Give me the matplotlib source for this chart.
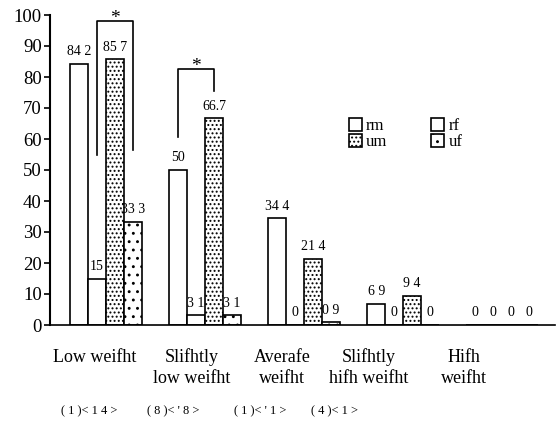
import matplotlib
matplotlib.use("Agg")
import matplotlib.pyplot as plt
import numpy as np

plt.rcParams['font.family'] = ['Liberation Serif', 'DejaVu Serif']
plt.rcParams['hatch.linewidth'] = 0.9

# data
groups = ["Low weifht", "Slifhtly\nlow weifht", "Averafe\nweifht",
          "Slifhtly\nhifh weifht", "Hifh\nweifht"]
sub_labels = ["( 1 )< 1 4 >", "( 8 )< ' 8 >", "( 1 )< ' 1 >", "( 4 )< 1 >"]

rm = [84.2, 50, 34.4, 6.9, 0]
rf = [15, 3.1, 0, 0, 0]
um = [85.7, 66.7, 21.4, 9.4, 0]
uf = [33.3, 3.1, 0.9, 0, 0]

rm_txt = ["84 2", "50", "34 4", "6 9", "0"]
rf_txt = ["15", "3 1", "0", "0", "0"]
um_txt = ["85 7", "66.7", "21 4", "9 4", "0"]
uf_txt = ["33 3", "3 1", "0 9", "0", "0"]

series = [("rm", rm, rm_txt, ""), ("rf", rf, rf_txt, ""),
          ("um", um, um_txt, "...."), ("uf", uf, uf_txt, "..")]

fig = plt.figure(figsize=(5.58, 4.22), dpi=100)
ax = fig.add_axes([50/558, 1-325/422, 505/558, 310/422])

x = np.arange(len(groups))
w = 0.18
offsets = [-1.5*w, -0.5*w, 0.5*w, 1.5*w]

bars = []
for (name, vals, txts, hatch), off in zip(series, offsets):
    b = ax.bar(x + off, vals, w, facecolor="white", edgecolor="black",
               linewidth=1.2, hatch=hatch, label=name)
    bars.append(b)
    for xi, v, t in zip(x + off, vals, txts):
        ax.annotate(t, (xi, v), xytext=(0, 4), textcoords="offset points",
                    ha="center", va="bottom", fontsize=10)

# significance brackets
def bracket(x1, x2, y_top, y1, y2):
    ax.plot([x1, x1, x2, x2], [y1, y_top, y_top, y2], color="black", lw=1.2,
            clip_on=False)
    ax.text((x1 + x2) / 2, y_top - 1.8, "*", ha="center", va="bottom",
            fontsize=14)

bracket(0 + offsets[1], 0 + offsets[3], 98, 55, 56.5)
bracket(1 + offsets[0], 1 + offsets[2], 82.5, 60.5, 75.5)

ax.set_xlim(-0.566, 4.535)
ax.set_ylim(0, 100)
ax.set_yticks(range(0, 101, 10))
ax.tick_params(axis="y", labelsize=13.5, length=4, width=1.2, pad=2)

label_pos = [-0.11, 0.87, 1.78, 2.65, 3.62]
ax.set_xticks(label_pos)
ax.set_xticklabels(groups, fontsize=13, linespacing=1.3)
ax.tick_params(axis="x", length=0, pad=17)

for s in ["top", "right"]:
    ax.spines[s].set_visible(False)
ax.spines["left"].set_linewidth(1.5)
ax.spines["bottom"].set_linewidth(1.2)

handles = [bars[0], bars[2], bars[1], bars[3]]
ax.legend(handles, ["rm", "um", "rf", "uf"], ncol=2, frameon=False,
          loc="upper left", bbox_to_anchor=(0.575, 0.695), fontsize=12,
          handlelength=0.8, handleheight=0.8, handletextpad=0.25,
          columnspacing=2.6, labelspacing=0.0, borderpad=0)

for px, t in zip([89, 173, 260, 335], sub_labels):
    fig.text(px/558, 1-411/422, t, ha="center", va="center", fontsize=9)

fig.savefig("out.png", dpi=100)
